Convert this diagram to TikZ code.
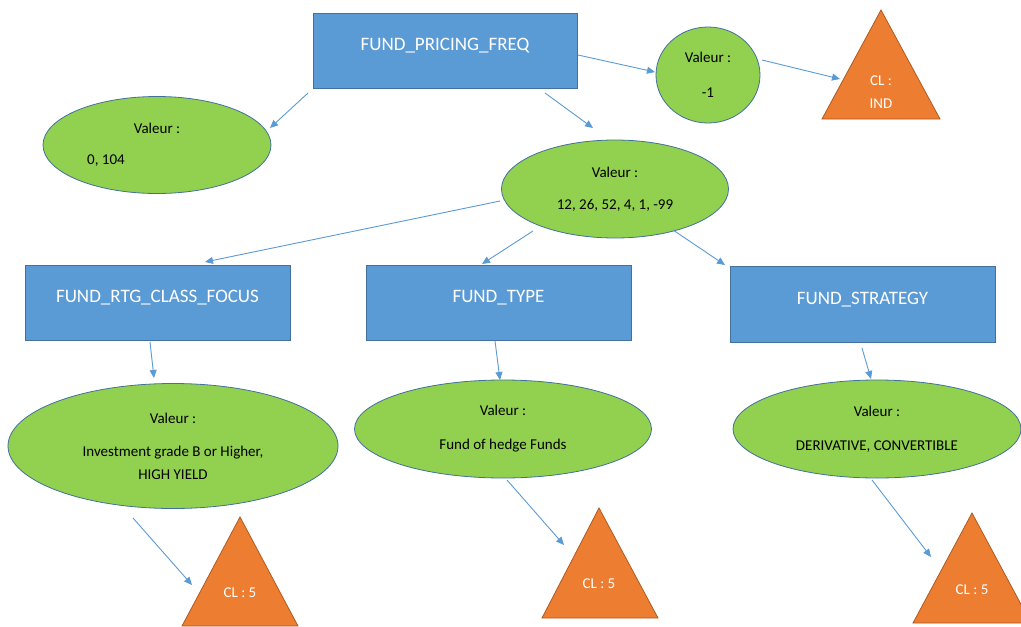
\documentclass[tikz,border=0pt]{standalone}
\usepackage{fontspec}
\setmainfont{Carlito}
\usetikzlibrary{shapes.geometric,arrows.meta}
\definecolor{boxblue}{HTML}{5B9BD5}
\definecolor{edgeblue}{HTML}{41719C}
\definecolor{valgreen}{HTML}{92D050}
\definecolor{clorange}{HTML}{ED7D31}
\definecolor{edgeorange}{HTML}{AE5A21}
\begin{document}
\begin{tikzpicture}[x=1pt,y=-1pt,
  attr/.style={rectangle, fill=boxblue, draw=edgeblue, line width=0.8pt, text=white,
    font=\fontsize{19}{23}\selectfont, minimum width=264pt, minimum height=75pt,
    text height=13pt, text depth=13pt, inner sep=0pt},
  val/.style={ellipse, fill=valgreen, draw=edgeblue, line width=0.8pt,
    font=\fontsize{15}{18}\selectfont, align=center, inner sep=0pt},
  valtxt/.style={font=\fontsize{15}{18}\selectfont, inner sep=0pt},
  cltxt/.style={text=white, font=\fontsize{15}{18}\selectfont, align=center, inner sep=0pt},
  clshape/.style={fill=clorange, draw=edgeorange, line width=0.8pt},
  link/.style={draw=boxblue, line width=0.9pt, -{Triangle[length=8pt,width=7pt]}}]
\useasboundingbox (0,0) rectangle (1021,627);
\fill[white] (0,0) rectangle (1021,627);

% attribute boxes
\node[attr] (root) at (445,50.5) {FUND\_PRICING\_FREQ};
\node[attr, minimum width=265pt] (r1) at (157.5,302.5) {FUND\_RTG\_CLASS\_FOCUS};
\node[attr, minimum width=265pt] (r2) at (498.5,302.5) {FUND\_TYPE};
\node[attr, minimum width=265pt, minimum height=76pt] (r3) at (862.5,304) {FUND\_STRATEGY};

% value shapes
\node[val, minimum width=104pt, minimum height=96pt] (c1) at (708,75) {Valeur :\\[17pt]-1};
\node[val, minimum width=228pt, minimum height=97pt] (e0) at (157,145) {};
\node[valtxt] (e0a) at ([shift={(0,-17)}]e0.center) {Valeur :};
\node[valtxt] (e0b) at ([shift={(-51,16)}]e0.center) {0, 104};
\node[val, minimum width=227pt, minimum height=98pt] (ec) at (615,189) {Valeur :\\[14pt]12, 26, 52, 4, 1, -99};
\node[val, minimum width=330pt, minimum height=125pt] (e1) at (173,446) {Valeur :\\[15pt]Investment grade B or Higher,\\[5pt]HIGH YIELD};
\node[val, minimum width=297pt, minimum height=98pt] (e2) at (503,429) {Valeur :\\[16pt]Fund of hedge Funds};
\node[val, minimum width=288pt, minimum height=98pt] (e3) at (877,429) {Valeur :\\[16pt]DERIVATIVE, CONVERTIBLE};

% class triangles
\draw[clshape] (881,10) -- (940,119) -- (822,119) -- cycle;
\node[cltxt] (tIND) at (881,92.5) {CL :\\[5pt]IND};
\draw[clshape] (240,517) -- (298,626) -- (182,626) -- cycle;
\node[cltxt] (t1) at (240,593) {CL : 5};
\draw[clshape] (599,508) -- (658,618) -- (542,618) -- cycle;
\node[cltxt] (t2) at (599,584) {CL : 5};
\draw[clshape] (972,513) -- (1031,623) -- (913,623) -- cycle;
\node[cltxt] (t3) at (972,590) {CL : 5};

% connectors
\draw[link] ([shift={(-137,42.5)}]root.center) -- ([shift={(113,-17)}]e0.center);
\draw[link] ([shift={(100,42.5)}]root.center) -- ([shift={(-22,-61)}]ec.center);
\draw[link] ([shift={(133,4.5)}]root.center) -- ([shift={(-53,-3)}]c1.center);
\draw[link] ([shift={(54,-15)}]c1.center) -- ([shift={(-41,-13.5)}]tIND.center);
\draw[link] ([shift={(-115,12)}]ec.center) -- ([shift={(47.5,-40.5)}]r1.center);
\draw[link] ([shift={(-82,42)}]ec.center) -- ([shift={(-16.5,-38.5)}]r2.center);
\draw[link] ([shift={(58,41)}]ec.center) -- ([shift={(-137.5,-39)}]r3.center);
\draw[link] ([shift={(-7.5,39.5)}]r1.center) -- ([shift={(-19,-68)}]e1.center);
\draw[link] ([shift={(-3.5,38.5)}]r2.center) -- ([shift={(-3,-49)}]e2.center);
\draw[link] ([shift={(-0.5,44)}]r3.center) -- ([shift={(-6,-50)}]e3.center);
\draw[link] ([shift={(-40,72)}]e1.center) -- ([shift={(-48,-8)}]t1.center);
\draw[link] ([shift={(4,51)}]e2.center) -- ([shift={(-35,-39)}]t2.center);
\draw[link] ([shift={(-5,51)}]e3.center) -- ([shift={(-41,-33)}]t3.center);
\end{tikzpicture}
\end{document}
